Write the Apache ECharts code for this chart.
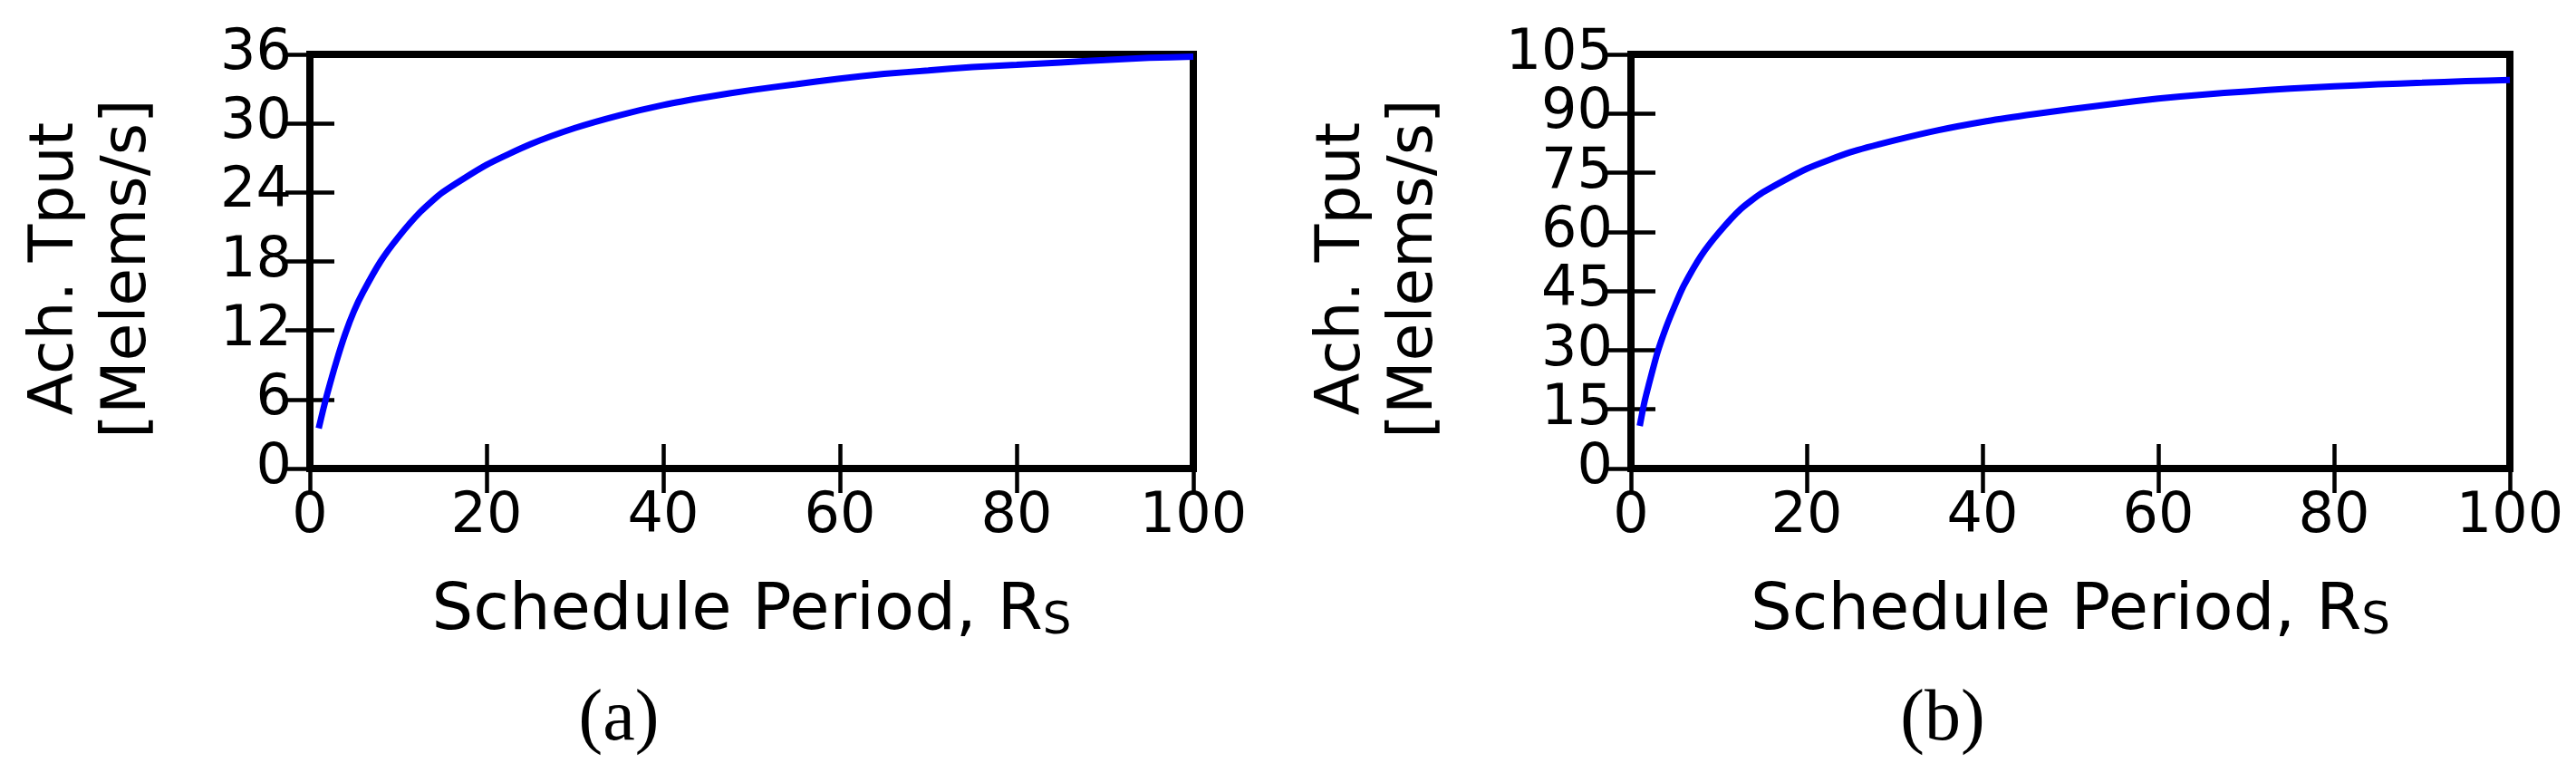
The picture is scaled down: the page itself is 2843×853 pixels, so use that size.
<!DOCTYPE html>
<html lang="en">
<head>
    <meta charset="UTF-8">
    <title>Ach. Tput vs Schedule Period</title>
    <script src="https://cdn.jsdelivr.net/npm/echarts@6/dist/echarts.min.js"></script>
    <style>
        html, body { margin: 0; padding: 0; background: #fff; }
        #charts { width: 2843px; height: 853px; }
    </style>
</head>
<body>
<div id="charts"></div>
<script>
    // values (schedule period R_S -> achieved throughput)
    var periods = [1, 1.5, 2, 3, 4, 5, 6, 8, 10, 12.5, 15, 20, 25, 30, 35, 40, 45, 50, 55, 60, 65, 70, 75, 80, 85, 90, 95, 100];
    var tputA = [3.5, 5.1, 6.6, 9.3, 11.7, 13.7, 15.3, 18.0, 20.1, 22.3, 24.0, 26.4, 28.2, 29.6, 30.7, 31.6, 32.3, 32.9, 33.4, 33.9, 34.3, 34.6, 34.9, 35.1, 35.3, 35.5, 35.7, 35.8];
    var tputB = [10.8, 16.5, 21.0, 29.3, 35.8, 41.3, 46.3, 54.0, 59.8, 65.8, 70.0, 76.0, 80.2, 83.2, 85.8, 87.9, 89.6, 91.1, 92.5, 93.8, 94.8, 95.6, 96.3, 96.9, 97.4, 97.8, 98.2, 98.5];
    var xTicks = [0, 20, 40, 60, 80, 100];
    var yTicksA = [0, 6, 12, 18, 24, 30, 36];
    var yTicksB = [0, 15, 30, 45, 60, 75, 90, 105];

    var xTitle = '{a|Schedule Period, R}{s|S}';
    var yTitle = 'Ach. Tput\n[Melems/s]';
    var font = 'DejaVu Sans';

    function pairs(xs, ys) {
        return xs.map(function (x, i) { return [x, ys[i]]; });
    }

    var tick = { show: true, inside: true, length: 27, lineStyle: { color: '#000', width: 4.5 } };

    function xAxes(idx) {
        var step = xTicks[1] - xTicks[0];
        return [{
            gridIndex: idx, type: 'value', position: 'bottom',
            min: xTicks[0], max: xTicks[xTicks.length - 1], interval: step,
            axisLine: { show: false }, splitLine: { show: false }, axisTick: tick,
            axisLabel: { color: '#000', fontFamily: font, fontSize: 62, lineHeight: 62, margin: 23,
                showMinLabel: true, showMaxLabel: true },
            name: xTitle, nameLocation: 'middle', nameGap: 122,
            nameTextStyle: {
                rich: {
                    a: { fontFamily: font, fontSize: 72, lineHeight: 72, color: '#000' },
                    // subscript S, dropped below the baseline
                    s: { fontFamily: font, fontSize: 50, lineHeight: 20, verticalAlign: 'bottom', color: '#000' }
                }
            }
        }, {
            gridIndex: idx, type: 'value', position: 'top',
            min: xTicks[0], max: xTicks[xTicks.length - 1], interval: step,
            axisLine: { show: false }, splitLine: { show: false }, axisTick: tick,
            axisLabel: { show: false }
        }];
    }

    function yAxes(idx, ticks, gap) {
        var step = ticks[1] - ticks[0];
        return [{
            gridIndex: idx, type: 'value', position: 'left',
            min: ticks[0], max: ticks[ticks.length - 1], interval: step,
            axisLine: { show: false }, splitLine: { show: false }, axisTick: tick,
            axisLabel: { color: '#000', fontFamily: font, fontSize: 62, lineHeight: 44, margin: 20,
                padding: [0, 0, 10, 0], showMinLabel: true, showMaxLabel: true, hideOverlap: false },
            name: yTitle, nameLocation: 'middle', nameRotate: 90, nameGap: gap,
            nameTextStyle: { fontFamily: font, fontSize: 68, lineHeight: 80, color: '#000', padding: [0, 16, 0, 0] }
        }, {
            gridIndex: idx, type: 'value', position: 'right',
            min: ticks[0], max: ticks[ticks.length - 1], interval: step,
            axisLine: { show: false }, splitLine: { show: false }, axisTick: tick,
            axisLabel: { show: false }
        }];
    }

    var frame = { show: true, borderColor: '#000', borderWidth: 8, backgroundColor: 'transparent' };

    var option = {
        animation: false,
        backgroundColor: '#fff',
        grid: [
            Object.assign({ left: 342, top: 60, width: 975, height: 457 }, frame),
            Object.assign({ left: 1800, top: 60, width: 970, height: 457 }, frame)
        ],
        xAxis: xAxes(0).concat(xAxes(1)),
        yAxis: yAxes(0, yTicksA, 160).concat(yAxes(1, yTicksB, 198)),
        series: [{
            type: 'line', xAxisIndex: 0, yAxisIndex: 0,
            data: pairs(periods, tputA),
            showSymbol: false, smooth: 0.2,
            lineStyle: { color: '#0000ff', width: 7 }
        }, {
            type: 'line', xAxisIndex: 2, yAxisIndex: 2,
            data: pairs(periods, tputB),
            showSymbol: false, smooth: 0.2,
            lineStyle: { color: '#0000ff', width: 7 }
        }],
        graphic: [{
            type: 'text', x: 683, y: 795,
            style: { text: '(a)', fontFamily: 'Liberation Serif', fontSize: 80, fill: '#000', textAlign: 'center', textVerticalAlign: 'middle' }
        }, {
            type: 'text', x: 2144, y: 795,
            style: { text: '(b)', fontFamily: 'Liberation Serif', fontSize: 80, fill: '#000', textAlign: 'center', textVerticalAlign: 'middle' }
        }]
    };

    var myChart = echarts.init(document.getElementById('charts'));
    myChart.setOption(option);
</script>
</body>
</html>
